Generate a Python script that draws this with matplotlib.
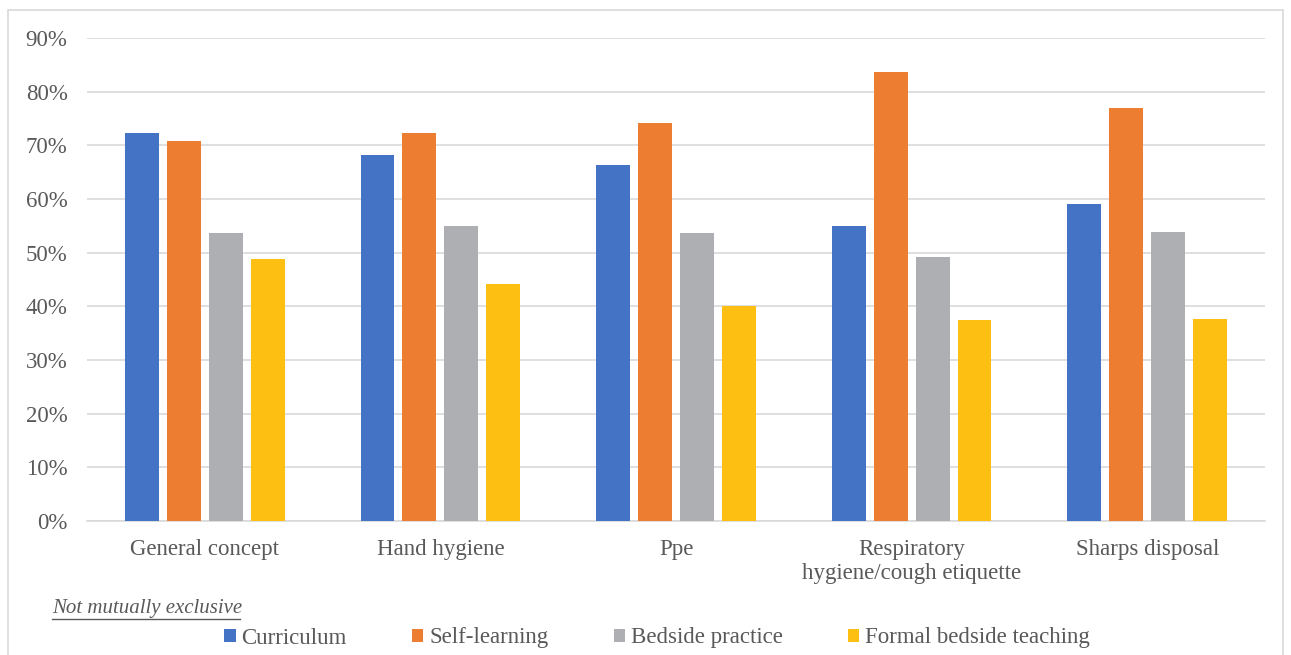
import numpy as np
import matplotlib
matplotlib.use("Agg")
import matplotlib.pyplot as plt
from matplotlib.patches import Rectangle
from matplotlib.lines import Line2D

plt.rcParams['font.family'] = ['Liberation Serif', 'DejaVu Serif']

categories = ["General concept", "Hand hygiene", "Ppe",
              "Respiratory\nhygiene/cough etiquette", "Sharps disposal"]
series_names = ["Curriculum", "Self-learning", "Bedside practice", "Formal bedside teaching"]
curriculum = [72.3, 68.2, 66.3, 55.0, 59.1]
self_learning = [70.8, 72.3, 74.2, 83.7, 77.0]
bedside_practice = [53.7, 55.0, 53.7, 49.2, 53.8]
formal_teaching = [48.8, 44.2, 40.1, 37.5, 37.6]
colors = ["#4472C4", "#ED7D31", "#AEAFB3", "#FCBF12"]
txt = "#595959"
fs = 16.5

W, H = 1291, 655
fig = plt.figure(figsize=(W / 100, H / 100), dpi=100)
ax = fig.add_axes([87 / W, 1 - 521 / H, (1265 - 87) / W, (521 - 38) / H])

x = np.arange(len(categories))
bw = 0.144
step = 0.178
data = [curriculum, self_learning, bedside_practice, formal_teaching]
for i, (vals, name, c) in enumerate(zip(data, series_names, colors)):
    ax.bar(x + (i - 1.5) * step, np.array(vals) / 100, width=bw, color=c, label=name, zorder=3)

ax.set_xlim(-0.5, len(categories) - 0.5)
ax.set_ylim(0, 0.9)
ticks = np.arange(0, 0.91, 0.1)
ax.set_yticks(ticks)
ax.set_yticklabels([f"{int(round(v * 100))}%" for v in ticks])
ax.yaxis.grid(True, color="#D9D9D9", linewidth=1.2, zorder=0)
ax.set_xticks(x)
ax.set_xticklabels(categories, linespacing=1.2)
for s in ["top", "right", "left"]:
    ax.spines[s].set_visible(False)
ax.spines["bottom"].set_color("#D9D9D9")
ax.spines["bottom"].set_linewidth(1.2)
ax.tick_params(axis="both", length=0, labelsize=fs, colors=txt)
ax.tick_params(axis="x", pad=13)
ax.tick_params(axis="y", pad=14)

# border around chart
fig.add_artist(Rectangle((8 / W, -0.01), (1283 - 8) / W, 1 - 10 / H + 0.01,
                         transform=fig.transFigure, fill=False,
                         edgecolor="#D9D9D9", linewidth=1.2))

# note (underlined)
fig.text(52 / W, 1 - 608 / H, "Not mutually exclusive", fontsize=15, style="italic",
         color=txt, va="center", ha="left")
fig.add_artist(Line2D([52 / W, 240 / W], [1 - 619 / H, 1 - 619 / H],
                      transform=fig.transFigure, color=txt, linewidth=1))

fig.legend(loc="center", bbox_to_anchor=(657 / W, 1 - 638 / H), ncol=4, frameon=False,
           fontsize=fs, labelcolor=txt, handlelength=0.5, handleheight=0.5,
           handletextpad=0.25, columnspacing=2.85)

fig.savefig("out.png", dpi=100)
